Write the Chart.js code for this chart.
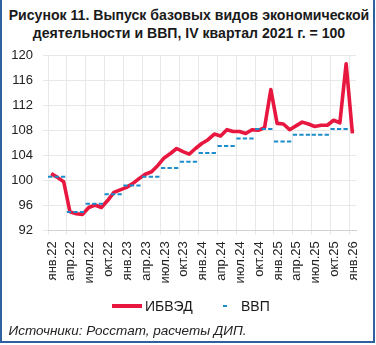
<!DOCTYPE html>
<html>
<head>
<meta charset="utf-8">
<script src="https://cdn.jsdelivr.net/npm/chart.js@4.4.1/dist/chart.umd.min.js"></script>
<style>
html,body{margin:0;padding:0;background:#fff;}
body{width:376px;height:345px;position:relative;overflow:hidden;font-family:"Liberation Sans",Arial,sans-serif;color:#1a1a1a;}
#frame{position:absolute;left:0;top:0;width:371px;height:341px;border-left:2px solid #2f609f;border-right:2px solid #2f609f;border-bottom:2px solid #2f609f;}
#title{position:absolute;left:0;top:6.4px;width:378px;text-align:center;font-weight:bold;font-size:14.1px;line-height:18px;white-space:nowrap;}
#chartBox{position:absolute;left:0;top:0;width:376px;height:345px;}
.lg{position:absolute;font-size:14px;line-height:16px;white-space:nowrap;}
#source{position:absolute;left:8.5px;top:323.2px;font-style:italic;font-size:13.5px;line-height:16px;white-space:nowrap;color:#222;}
</style>
</head>
<body>
<div id="frame"></div>
<div id="title">Рисунок 11. Выпуск базовых видов экономической<br>деятельности и ВВП, IV квартал 2021 г. = 100</div>
<div id="chartBox"><canvas id="c" width="376" height="345"></canvas></div>
<div style="position:absolute;left:112px;top:304px;width:30px;height:3.5px;background:#e8173f;"></div>
<div class="lg" style="left:145px;top:298.4px;">ИБВЭД</div>
<div style="position:absolute;left:222.5px;top:305px;width:4px;height:2px;background:#1c8ccb;"></div>
<div class="lg" style="left:241px;top:298.4px;">ВВП</div>
<div id="source">Источники: Росстат, расчеты ДИП.</div>
<script>
// Tick labels (one every quarter, January 2022 .. January 2026)
const tickLabels = ['янв.22','апр.22','июл.22','окт.22','янв.23','апр.23','июл.23','окт.23','янв.24','апр.24','июл.24','окт.24','янв.25','апр.25','июл.25','окт.25','янв.26'];
// Series names
const seriesNames = ['ИБВЭД', 'ВВП'];
// Monthly index of output of basic economic activities, Jan 2022 .. Jan 2026
const ibved = [101.1,100.5,99.8,95.0,94.7,94.6,95.7,96.1,95.7,96.8,
               98.1,98.5,98.9,99.5,100.3,101.0,101.4,102.4,103.6,104.3,
               105.1,104.6,104.2,105.1,105.9,106.5,107.4,107.1,108.1,107.8,
               107.8,107.5,108.1,108.0,108.4,114.5,109.1,109.0,108.1,108.7,
               109.3,109.0,108.6,108.8,108.8,109.6,109.2,118.6,107.5];
// Quarterly GDP, Q1 2022 .. Q4 2025
const gdp = [100.6,95.0,96.3,97.8,99.2,100.6,102.0,103.0,104.4,105.5,106.7,108.2,106.2,107.3,107.3,108.2];
// Y axis
const yMin = 92, yMax = 120, yStep = 4;

// monthly points sit in the middle of each month on a month-based axis
const ibvedPoints = ibved.map((v, i) => ({x: i + 0.5, y: v}));
// each quarter value spans its three months
const gdpPoints = [];
gdp.forEach((v, q) => {
  gdpPoints.push({x: q * 3, y: v});
  gdpPoints.push({x: q * 3 + 3, y: v});
  gdpPoints.push({x: q * 3 + 3, y: null});
});
const tickValues = tickLabels.map((_, k) => k * 3);

new Chart(document.getElementById('c'), {
  type: 'line',
  data: {
    datasets: [
      {label: seriesNames[1], data: gdpPoints, borderColor: '#1c8ccb', borderWidth: 2,
       borderDash: [4.3, 2.2], pointRadius: 0, spanGaps: false, order: 0, tension: 0},
      {label: seriesNames[0], data: ibvedPoints, borderColor: '#e8173f', borderWidth: 3.6,
       borderJoinStyle: 'round', pointRadius: 0, order: 1, tension: 0}
    ]
  },
  options: {
    responsive: false,
    animation: false,
    events: [],
    layout: {padding: {left: 0, top: 55, right: 20, bottom: 54.3}},
    plugins: {legend: {display: false}, tooltip: {enabled: false}, title: {display: false}},
    scales: {
      x: {
        type: 'linear',
        min: 0,
        max: 49.07,
        afterBuildTicks: s => { s.ticks = tickValues.map(v => ({value: v})); },
        afterFit: s => { s.height = 60; },
        grid: {color: '#e8e8e8', lineWidth: 1, tickLength: 4, drawTicks: true},
        border: {display: true, color: '#d2d2d2', width: 1},
        ticks: {
          autoSkip: false, minRotation: 90, maxRotation: 90, padding: 6.5, labelOffset: 4,
          color: '#222', font: {family: '"Liberation Sans", Arial, sans-serif', size: 13},
          callback: (v, i) => tickLabels[i]
        }
      },
      y: {
        min: yMin, max: yMax,
        afterFit: s => { s.width = 48; },
        grid: {color: '#e8e8e8', lineWidth: 1, tickLength: 5},
        border: {display: false},
        ticks: {stepSize: yStep, padding: 10, color: '#222',
          font: {family: '"Liberation Sans", Arial, sans-serif', size: 13}}
      }
    }
  }
});
</script>
</body>
</html>
